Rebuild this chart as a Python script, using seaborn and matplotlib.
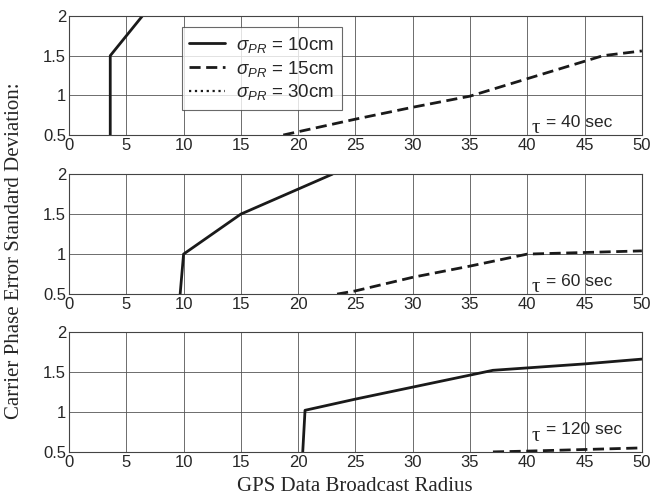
import numpy as np
import pandas as pd
import matplotlib
matplotlib.use('Agg')
import matplotlib.pyplot as plt
import seaborn as sns

# values (x = broadcast radius, y = std dev)
tau_labels = ['40', '60', '120']

x10_t40 = [3.6, 3.6, 6.4]
y10_t40 = [0.5, 1.5, 2.0]
x15_t40 = [18.7, 25, 30, 35, 40, 46.6, 50]
y15_t40 = [0.5, 0.70, 0.85, 0.99, 1.21, 1.5, 1.56]

x10_t60 = [9.7, 10.0, 15.0, 23.0]
y10_t60 = [0.5, 1.0, 1.5, 2.0]
x15_t60 = [23.4, 25, 30, 35, 40, 45, 50]
y15_t60 = [0.5, 0.54, 0.71, 0.85, 1.0, 1.02, 1.04]

x10_t120 = [20.4, 20.6, 25, 30, 35, 37, 40, 45, 50]
y10_t120 = [0.5, 1.02, 1.16, 1.31, 1.46, 1.52, 1.55, 1.60, 1.66]
x15_t120 = [37, 40, 45, 50]
y15_t120 = [0.5, 0.51, 0.53, 0.55]

# sigma_PR = 30cm stays above the plotted range -> no visible points
x30 = []
y30 = []

panels = [
    (x10_t40, y10_t40, x15_t40, y15_t40),
    (x10_t60, y10_t60, x15_t60, y15_t60),
    (x10_t120, y10_t120, x15_t120, y15_t120),
]

sns.set_style('white')
plt.rcParams['font.family'] = ['Liberation Sans', 'DejaVu Sans']
plt.rcParams['mathtext.fontset'] = 'custom'
plt.rcParams['mathtext.rm'] = 'Liberation Sans'
plt.rcParams['mathtext.it'] = 'Liberation Sans:italic'

fig = plt.figure(figsize=(6.51, 5.01), dpi=100)
rects = [
    [0.106, 0.7305, 0.880, 0.2375],
    [0.106, 0.4130, 0.880, 0.2395],
    [0.106, 0.0980, 0.880, 0.2395],
]
tau_y = [0.52, 0.52, 0.64]

for i, (xa, ya, xb, yb) in enumerate(panels):
    ax = fig.add_axes(rects[i])
    sns.lineplot(x=xa, y=ya, ax=ax, color='#1a1a1a', lw=2.0, sort=False,
                 estimator=None, label=r'$\sigma_{PR}$ = 10cm')
    sns.lineplot(x=xb, y=yb, ax=ax, color='#1a1a1a', lw=2.0, sort=False,
                 estimator=None, label=r'$\sigma_{PR}$ = 15cm')
    ax.lines[-1].set_dashes([4, 2])
    ax.plot(x30, y30, color='#1a1a1a', lw=1.6, ls=':', label=r'$\sigma_{PR}$ = 30cm')
    ax.set_xlim(0, 50)
    ax.set_ylim(0.5, 2)
    ax.set_xticks(np.arange(0, 51, 5))
    ax.set_yticks([0.5, 1, 1.5, 2])
    ax.set_yticklabels(['0.5', '1', '1.5', '2'])
    ax.tick_params(length=0, labelsize=12, pad=2)
    ax.grid(True, color='#555555', lw=0.6)
    for s in ax.spines.values():
        s.set_color('#444444')
        s.set_linewidth(0.8)
    ax.set_xlabel('')
    ax.set_ylabel('')
    ax.text(40.4, tau_y[i], '\u03c4', fontsize=15, family='Liberation Serif')
    ax.text(41.6, tau_y[i] + 0.08, '= ' + tau_labels[i] + ' sec', fontsize=12.5)
    if i == 0:
        leg = ax.legend(loc='upper left', bbox_to_anchor=(0.197, 0.905),
                        fontsize=13.5, frameon=True, fancybox=False,
                        handlelength=1.9, borderpad=0.4, labelspacing=0.2,
                        handletextpad=0.6, borderaxespad=0)
        leg.get_frame().set_edgecolor('#444444')
        leg.get_frame().set_linewidth(0.8)
    else:
        ax.get_legend().remove()

fig.text(0.022, 0.5, 'Carrier Phase Error Standard Deviation:', rotation=90,
         va='center', ha='center', fontsize=15, family='Liberation Serif')
fig.text(0.545, 0.028, 'GPS Data Broadcast Radius', va='center', ha='center',
         fontsize=15, family='Liberation Serif')

fig.savefig('out.png', dpi=100)
